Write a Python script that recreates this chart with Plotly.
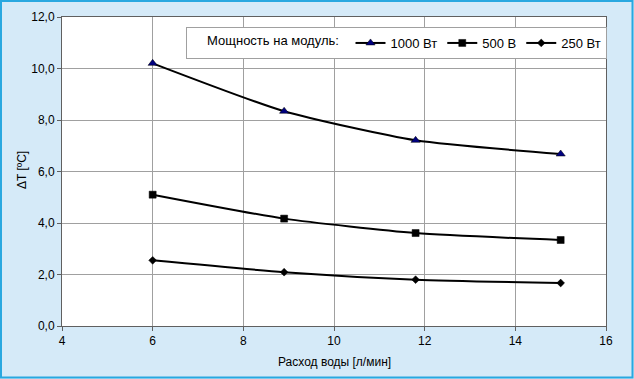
import plotly.graph_objects as go

x_flow = [6.0, 8.9, 11.8, 15.0]
dt_1000 = [10.20, 8.34, 7.21, 6.68]
dt_500 = [5.10, 4.17, 3.61, 3.34]
dt_250 = [2.55, 2.09, 1.80, 1.67]
series_names = ["1000 Вт", "500 В", "250 Вт"]
x_title = "Расход воды [л/мин]"
y_title = "ΔT [ºC]"
legend_title = "Мощность на модуль:"

W, H = 634, 379
ML, MR, MT, MB = 62, 28, 17, 53
PW, PH = W - ML - MR, H - MT - MB

fig = go.Figure()
styles = [
    (dt_1000, "triangle-up", "#000080", 8),
    (dt_500, "square", "#000000", 7),
    (dt_250, "diamond", "#000000", 6),
]
for name, (ys, sym, col, sz) in zip(series_names, styles):
    fig.add_trace(go.Scatter(
        x=x_flow, y=ys, name=name, mode="lines+markers",
        line=dict(color="#000000", width=2, shape="spline", smoothing=0.6),
        marker=dict(symbol=sym, size=sz, color=col, line=dict(color="#000000", width=0.5)),
    ))

def px_x(p):
    return (p - ML) / PW

def px_y(p):
    return (H - MB - p) / PH

fig.add_shape(type="rect", xref="paper", yref="paper",
              x0=px_x(1), x1=px_x(W - 1.5), y0=px_y(H - 1.5), y1=px_y(1),
              line=dict(color="#29A8E0", width=2), fillcolor="rgba(0,0,0,0)", layer="below")

fig.add_annotation(text=x_title, xref="paper", yref="paper", x=px_x(334), y=px_y(362),
                   showarrow=False, xanchor="center", yanchor="middle", font=dict(size=12))
fig.add_annotation(text=y_title, xref="paper", yref="paper", x=px_x(22), y=px_y(170),
                   showarrow=False, xanchor="center", yanchor="middle", textangle=-90,
                   font=dict(size=12))

fig.update_layout(
    width=W, height=H,
    margin=dict(l=ML, r=MR, t=MT, b=MB, pad=0, autoexpand=False),
    paper_bgcolor="#D5EAF8",
    plot_bgcolor="#FFFFFF",
    separators=", ",
    font=dict(family="Liberation Sans, Arial", size=12, color="#000000"),
    showlegend=True,
    legend=dict(
        orientation="h", x=px_x(186), y=px_y(27), xanchor="left", yanchor="top",
        bgcolor="#FFFFFF", bordercolor="#A0A0A0", borderwidth=1,
        title=dict(text="     " + legend_title + " ", side="left", font=dict(size=13)),
        font=dict(size=13), itemwidth=30,
        tracegroupgap=0,
    ),
    xaxis=dict(
        range=[4, 16], dtick=2, tick0=4, automargin=False,
        showgrid=True, gridcolor="#A0A0A0", gridwidth=1,
        showline=True, linecolor="#606060", linewidth=1, mirror=True,
        ticks="outside", ticklen=4, tickcolor="#606060",
        tickfont=dict(size=12),
        zeroline=False,
    ),
    yaxis=dict(
        range=[0, 12], dtick=2, tickformat=".1f", automargin=False,
        showgrid=True, gridcolor="#A0A0A0", gridwidth=1,
        showline=True, linecolor="#606060", linewidth=1, mirror=True,
        ticks="outside", ticklen=4, tickcolor="#606060",
        tickfont=dict(size=12),
        zeroline=False,
    ),
)

fig.write_html("out.html", config={"displayModeBar": False},
               post_script="document.body.style.margin='0';")
